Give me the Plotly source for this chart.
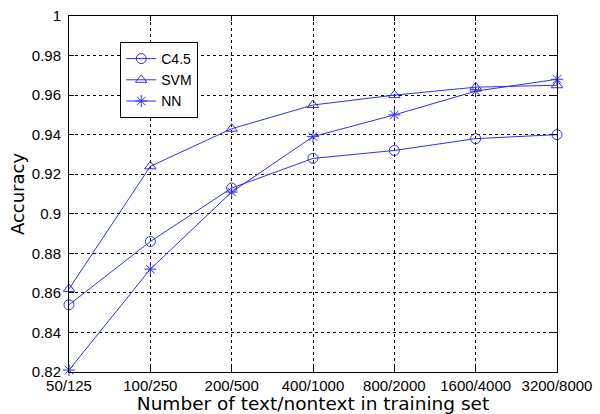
import plotly.graph_objects as go

categories = ["50/125", "100/250", "200/500", "400/1000", "800/2000", "1600/4000", "3200/8000"]
c45 = [0.854, 0.886, 0.913, 0.928, 0.932, 0.938, 0.940]
svm = [0.862, 0.924, 0.943, 0.955, 0.960, 0.964, 0.965]
nn = [0.821, 0.872, 0.911, 0.939, 0.950, 0.962, 0.968]
ytick_vals = [0.82, 0.84, 0.86, 0.88, 0.90, 0.92, 0.94, 0.96, 0.98, 1.0]
ytick_text = ["0.82", "0.84", "0.86", "0.88", "0.9", "0.92", "0.94", "0.96", "0.98", "1"]

blue = "#3030f0"
xs = list(range(len(categories)))

fig = go.Figure()
for name, vals, sym in [("C4.5", c45, "circle-open"), ("SVM", svm, "triangle-up-open"), ("NN", nn, "asterisk-open")]:
    fig.add_trace(go.Scatter(
        x=xs, y=vals, name=name, mode="lines+markers",
        line=dict(color=blue, width=1),
        marker=dict(symbol=sym, size=10, color=blue, line=dict(color=blue, width=1)),
        cliponaxis=False,
    ))

fig.update_layout(
    width=600, height=414,
    margin=dict(l=69, r=43, t=16, b=42),
    paper_bgcolor="white", plot_bgcolor="white",
    font=dict(family="Liberation Sans, Arial, sans-serif", color="black", size=13),
    showlegend=True,
    legend=dict(x=0.105, y=0.927, xanchor="left", yanchor="top",
                bgcolor="white", bordercolor="black", borderwidth=1,
                font=dict(size=14), tracegroupgap=0, itemwidth=30),
    xaxis=dict(
        range=[0, 6], tickvals=xs, ticktext=categories, automargin=False,
        showgrid=True, gridcolor="black", griddash="3px,3px", gridwidth=1,
        showline=True, linecolor="black", linewidth=1, mirror="ticks",
        ticks="inside", ticklen=5, tickcolor="black",
        zeroline=False, tickfont=dict(size=15), ticklabelstandoff=0,
        title=dict(text="Number of text/nontext in training set",
                   font=dict(family="DejaVu Sans, sans-serif", size=18.5), standoff=0),
    ),
    yaxis=dict(
        range=[0.82, 1.0], tickvals=ytick_vals, ticktext=ytick_text, automargin=False,
        showgrid=True, gridcolor="black", griddash="3px,3px", gridwidth=1,
        showline=True, linecolor="black", linewidth=1, mirror="ticks",
        ticks="inside", ticklen=5, tickcolor="black",
        zeroline=False, tickfont=dict(size=15), ticklabelstandoff=4,
        title=dict(text="Accuracy", font=dict(family="DejaVu Sans, sans-serif", size=18), standoff=2),
    ),
)

fig.write_html("out.html")
